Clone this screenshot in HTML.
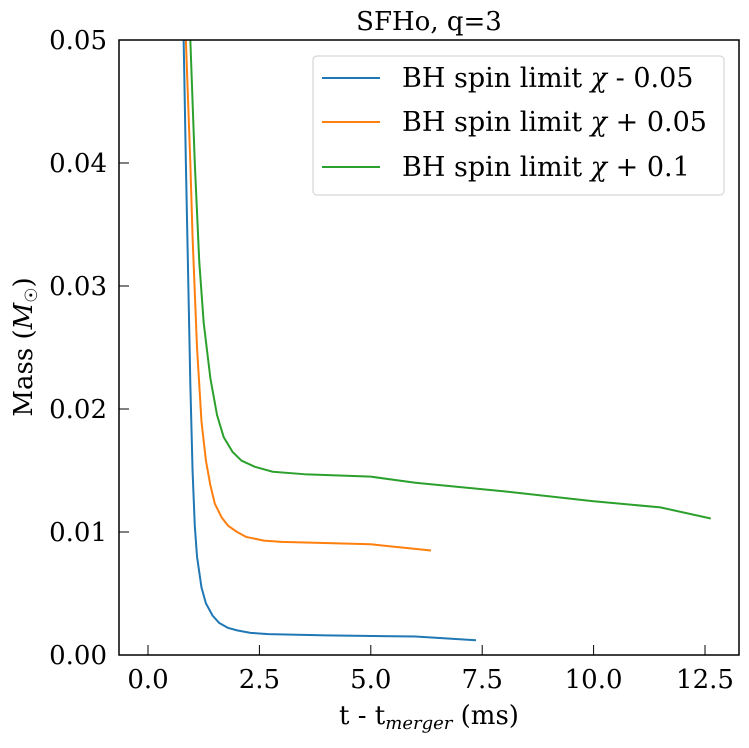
<!DOCTYPE html>
<html><head><meta charset="utf-8"><style>
body{margin:0;background:#fff;}
svg text{font-family:"DejaVu Serif","Liberation Serif",serif;fill:#000;}
</style></head><body>
<svg width="749" height="743">
<g id="marks"></g>
<rect x="119" y="40" width="620" height="615" fill="none" stroke="#000" stroke-width="1.5"/>
<g id="ticks"></g>
<text x="429" y="30" text-anchor="middle" font-size="26">SFHo, q=3</text>
<text x="429" y="724" text-anchor="middle" font-size="26">t - t<tspan font-size="18" font-style="italic" dy="5">merger</tspan><tspan dy="-5"> (ms)</tspan></text>
<text transform="translate(32,347) rotate(-90)" text-anchor="middle" font-size="26">Mass (<tspan font-style="italic">M</tspan><tspan font-size="17" dy="5">☉</tspan><tspan dy="-5">)</tspan></text>
<g>
<rect x="313" y="56" width="411" height="139" rx="4" fill="#fff" stroke="#ccc" stroke-width="1"/>
<line x1="322" y1="78" x2="380" y2="78" stroke="#1f77b4" stroke-width="2"/>
<text x="402" y="87" font-size="27">BH spin limit <tspan font-style="italic">χ</tspan> - 0.05</text>
<line x1="322" y1="122" x2="380" y2="122" stroke="#ff7f0e" stroke-width="2"/>
<text x="402" y="131" font-size="27">BH spin limit <tspan font-style="italic">χ</tspan> + 0.05</text>
<line x1="322" y1="167" x2="380" y2="167" stroke="#2ca02c" stroke-width="2"/>
<text x="402" y="176" font-size="27">BH spin limit <tspan font-style="italic">χ</tspan> + 0.1</text>
</g>
</svg>
<script>
const blueT=[0.8,0.85,0.9,0.95,1.0,1.05,1.1,1.2,1.3,1.45,1.6,1.8,2.0,2.3,2.7,4,6,7.36];
const blueM=[0.05,0.04,0.031,0.022,0.015,0.0105,0.008,0.0055,0.0042,0.0032,0.0026,0.0022,0.002,0.0018,0.0017,0.0016,0.0015,0.0012];
const orangeT=[0.85,0.95,1.0,1.1,1.2,1.3,1.4,1.5,1.65,1.8,2.0,2.2,2.6,3,5,6.35];
const orangeM=[0.05,0.04,0.034,0.025,0.019,0.0158,0.0138,0.0123,0.0112,0.0105,0.01,0.0096,0.0093,0.0092,0.009,0.0085];
const greenT=[0.95,1.05,1.15,1.25,1.4,1.55,1.7,1.9,2.1,2.4,2.8,3.5,5,6,8,10,11.5,12.63];
const greenM=[0.05,0.04,0.032,0.027,0.0225,0.0195,0.0177,0.0165,0.0158,0.0153,0.0149,0.0147,0.0145,0.014,0.0133,0.0125,0.012,0.0111];
const xTicks=["0.0","2.5","5.0","7.5","10.0","12.5"];
const yTicks=["0.00","0.01","0.02","0.03","0.04","0.05"];
const X=t=>148+t*44.56, Y=m=>655-m*12300;
const NS="http://www.w3.org/2000/svg";
const marks=document.getElementById('marks'), ticks=document.getElementById('ticks');
function line(T,M,c,name){
  const p=document.createElementNS(NS,'polyline');
  p.setAttribute('points',T.map((t,i)=>X(t)+','+Math.max(40,Y(M[i]))).join(' '));
  p.setAttribute('fill','none');p.setAttribute('stroke',c);p.setAttribute('stroke-width','2');
  p.setAttribute('stroke-linejoin','round');
  
  
  marks.appendChild(p);
}
line(blueT,blueM,'#1f77b4','series-chi-minus-0.05');
line(orangeT,orangeM,'#ff7f0e','series-chi-plus-0.05');
line(greenT,greenM,'#2ca02c','series-chi-plus-0.1');
xTicks.forEach(s=>{
  const x=X(parseFloat(s));
  const l=document.createElementNS(NS,'line');
  l.setAttribute('x1',x);l.setAttribute('x2',x);l.setAttribute('y1',655);l.setAttribute('y2',645);l.setAttribute('stroke','#000');
  
  
  ticks.appendChild(l);
  const t=document.createElementNS(NS,'text');
  t.setAttribute('x',x);t.setAttribute('y',688);t.setAttribute('text-anchor','middle');t.setAttribute('font-size','26');
  t.textContent=s;
  
  
  ticks.appendChild(t);
});
yTicks.forEach(s=>{
  const y=Y(parseFloat(s));
  const l=document.createElementNS(NS,'line');
  l.setAttribute('x1',119);l.setAttribute('x2',129);l.setAttribute('y1',y);l.setAttribute('y2',y);l.setAttribute('stroke','#000');
  
  
  ticks.appendChild(l);
  const t=document.createElementNS(NS,'text');
  t.setAttribute('x',107);t.setAttribute('y',y+9);t.setAttribute('text-anchor','end');t.setAttribute('font-size','26');
  t.textContent=s;
  
  
  ticks.appendChild(t);
});
</script>
</body></html>
